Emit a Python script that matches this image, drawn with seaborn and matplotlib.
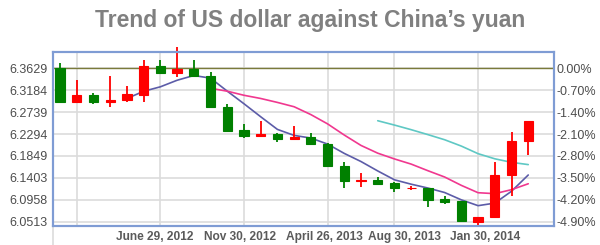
import numpy as np
import pandas as pd
import matplotlib
matplotlib.use("Agg")
import matplotlib.pyplot as plt
import matplotlib.transforms as mtrans
import seaborn as sns

# ---------------- data (monthly candles) ----------------
candle = list(range(29))
opens = [6.3629, 6.2951, 6.3087, 6.2951, 6.2985, 6.3087, 6.3682, 6.3540, 6.3615, 6.3473,
         6.2837, 6.2376, 6.2260, 6.2295, 6.2187, 6.2227, 6.2091, 6.1651, 6.1346, 6.1360,
         6.1293, 6.1192, 6.1204, 6.0975, 6.0940, 6.0513, 6.0603, 6.1462, 6.2159]
highs = [6.3743, 6.3391, 6.3134, 6.3473, 6.3269, 6.3791, 6.3798, 6.4060, 6.3798, 6.3560,
         6.2898, 6.2492, 6.2559, 6.2308, 6.2457, 6.2309, 6.2118, 6.1732, 6.1509, 6.1428,
         6.1326, 6.1245, 6.1204, 6.1036, 6.0940, 6.0603, 6.1732, 6.2329, 6.2559]
lows = [6.2951, 6.2951, 6.2898, 6.2849, 6.2938, 6.2951, 6.3540, 6.3459, 6.3459, 6.2837,
        6.2362, 6.2207, 6.2260, 6.2138, 6.2187, 6.2091, 6.1630, 6.1204, 6.1224, 6.1259,
        6.1111, 6.1157, 6.0806, 6.0867, 6.0528, 6.0412, 6.0582, 6.1036, 6.1868]
closes = [6.2951, 6.3087, 6.2951, 6.2985, 6.3107, 6.3682, 6.3540, 6.3615, 6.3473, 6.2837,
          6.2362, 6.2260, 6.2295, 6.2187, 6.2227, 6.2091, 6.1651, 6.1346, 6.1360, 6.1273,
          6.1192, 6.1204, 6.0954, 6.0907, 6.0528, 6.0603, 6.1462, 6.2159, 6.2559]

# moving-average lines
ma5_start = 4
ma5 = [6.3016, 6.3162, 6.3253, 6.3386, 6.3483, 6.3429, 6.3165, 6.2909, 6.2645, 6.2388,
       6.2266, 6.2212, 6.2090, 6.1900, 6.1735, 6.1544, 6.1364, 6.1275, 6.1197, 6.1106,
       6.0957, 6.0839, 6.0891, 6.1132, 6.1462]
ma10_start = 9
ma10 = [6.3223, 6.3164, 6.3081, 6.3016, 6.2936, 6.2848, 6.2689, 6.2500, 6.2273, 6.2062,
        6.1905, 6.1788, 6.1683, 6.1549, 6.1421, 6.1251, 6.1102, 6.1083, 6.1164, 6.1284]
ma20_start = 19
ma20 = [6.2564, 6.2476, 6.2382, 6.2282, 6.2178, 6.2049, 6.1895, 6.1791, 6.1719, 6.1673]

base_value = 6.3629
left_ticks = [6.3629, 6.3184, 6.2739, 6.2294, 6.1849, 6.1403, 6.0958, 6.0513]
left_labels = ["6.3629", "6.3184", "6.2739", "6.2294", "6.1849", "6.1403", "6.0958", "6.0513"]
right_labels = ["0.00%", "-0.70%", "-1.40%", "-2.10%", "-2.80%", "-3.50%", "-4.20%", "-4.90%"]
grid_candles = [1, 6, 11, 16, 20, 25]
label_candles = [6, 11, 16, 20, 25]
date_labels = ["June 29, 2012", "Nov 30, 2012", "April 26, 2013", "Aug 30, 2013", "Jan 30, 2014"]
title = "Trend of US dollar against China\u2019s yuan"

# ---------------- style ----------------
sns.set_theme(style="white")
plt.rcParams['font.family'] = ['Liberation Sans', 'DejaVu Sans']

UP = '#ff0000'
DOWN = '#008000'
FRAME = '#7f9cd4'
GRID = '#dcdcdc'
TXT = '#4d4d4d'

fig = plt.figure(figsize=(6, 2.45), dpi=100)
ax = fig.add_axes([53 / 600, 1 - 226 / 245, (554 - 53) / 600, (226 - 52.3) / 245])

df = pd.DataFrame(dict(i=candle, o=opens, h=highs, l=lows, c=closes))
colors = np.where(df.c >= df.o, UP, DOWN)

# moving averages (behind candles)
ma_df = pd.concat([
    pd.DataFrame({'i': candle[ma5_start:], 'v': ma5, 'ma': 'MA5'}),
    pd.DataFrame({'i': candle[ma10_start:], 'v': ma10, 'ma': 'MA10'}),
    pd.DataFrame({'i': candle[ma20_start:], 'v': ma20, 'ma': 'MA20'}),
])
sns.lineplot(data=ma_df, x='i', y='v', hue='ma',
             palette={'MA5': '#5c5ca8', 'MA10': '#f0388f', 'MA20': '#5fc8c4'},
             linewidth=1.2, legend=False, ax=ax, zorder=2)

ax.axhline(base_value, color='#7a7a3a', lw=1.0, zorder=1.5)

# candles
ax.vlines(df.i, df.l, df.h, colors=colors, lw=1.3, zorder=3, clip_on=False)
ax.bar(df.i, (df.c - df.o).abs(), bottom=np.minimum(df.o, df.c), width=0.55,
       color=colors, edgecolor=colors, lw=0.8, zorder=4)

ax.set_xlim(-0.42, 29.54)
ax.set_ylim(6.0426, 6.3954)
ax.set_xlabel('')
ax.set_ylabel('')

ax.set_yticks(left_ticks)
ax.set_yticklabels(left_labels)
ax.set_xticks(grid_candles)
ax.grid(True, color=GRID, lw=1.2, zorder=0)
ax.set_axisbelow(True)
ax.tick_params(axis='y', length=0, pad=4, labelsize=9, labelcolor=TXT)
ax.tick_params(axis='x', direction='out', length=13.7, width=1.2, color=GRID,
               labelbottom=False)
# left edge extension below the frame
ax.plot([0, 0], [0, -0.11], transform=ax.transAxes, color=GRID, lw=1.2, clip_on=False)

# date labels under the grid lines (small horizontal nudges as in the original)
label_shift_px = [-5.5, -3.7, -3.3, 10, 7.4]
base_tr = mtrans.blended_transform_factory(ax.transData, ax.transAxes)
for xc, txt, dx in zip(label_candles, date_labels, label_shift_px):
    tr = base_tr + mtrans.ScaledTranslation(dx / 100, 0, fig.dpi_scale_trans)
    ax.text(xc, -(240.3 - 226) / (226 - 52.3), txt, transform=tr, ha='center',
            va='baseline', fontsize=8.6, fontweight='bold', color='#5a5a5a')

ax2 = ax.twinx()
ax2.set_ylim(ax.get_ylim())
ax2.set_yticks(left_ticks)
ax2.set_yticklabels(right_labels)
ax2.tick_params(axis='y', length=0, pad=1.5, labelsize=9, labelcolor=TXT)
ax2.grid(False)

for a in (ax, ax2):
    for s in a.spines.values():
        s.set_visible(True)
        s.set_color(FRAME)
        s.set_linewidth(1.5)

fig.text(0.517, 1 - 27 / 245, title, ha='center', va='baseline', fontsize=16.5,
         fontweight='bold', color='#808080')

fig.savefig('out.png', dpi=100)
